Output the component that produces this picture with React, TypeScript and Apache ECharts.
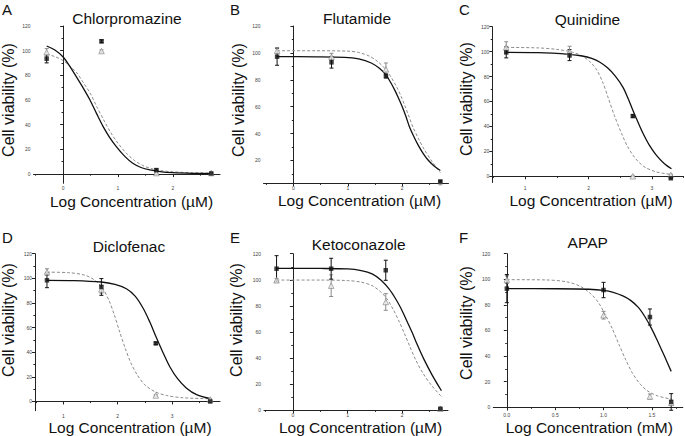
import React, { useEffect, useRef } from "react";
import * as echarts from "echarts";

// ---------- data (log concentration, % viability) ----------
const xA = [-0.3, 0.7, 1.7, 2.7];
const blackA = [93.5, 107.6, 3.2, 0.5];
const blackErrA = [3.4, 1.2, 1.0, 0.5];
const greyA = [98.7, 99.7, 0.8, 0.8];
const greyErrA = [3.0, 1.0, 0.5, 0.5];
const curveBlackA = [[-0.3, 103.8], [-0.15, 100.5], [0.0, 94.9], [0.12, 87.5], [0.24, 78.9], [0.37, 69.5], [0.49, 60], [0.61, 49], [0.73, 38.4], [0.85, 29.5], [0.97, 22.2], [1.12, 14.5], [1.27, 8.7], [1.42, 5.3], [1.58, 3.3], [1.8, 1.7], [2.0, 1.1], [2.35, 0.6], [2.73, 0.3]];
const curveGreyA = [[-0.3, 97.3], [-0.15, 95.2], [0.0, 92], [0.12, 87.5], [0.25, 82], [0.37, 74], [0.5, 65], [0.62, 54], [0.75, 43], [0.87, 33.5], [1.0, 25], [1.15, 17], [1.3, 11], [1.45, 7], [1.6, 4.5], [1.8, 2.7], [2.0, 1.8], [2.35, 1.1], [2.73, 0.8]];

const xB = [-0.3, 0.7, 1.7, 2.7];
const blackB = [97.2, 93, 82.8, 4.4];
const blackErrB = [6.4, 4.3, 1.5, 0.5];
const greyB = [101.6, 97.2, 87.8, 2.4];
const greyErrB = [1.9, 2.5, 4.7, 0.5];
const curveBlackB = [[-0.3, 97.2], [0.4, 97.1], [0.94, 96.7], [1.2, 95.5], [1.43, 92.5], [1.58, 88.5], [1.7, 83.6], [1.78, 78.5], [1.86, 72.5], [1.93, 66.5], [2.0, 60], [2.07, 52.5], [2.13, 45.2], [2.21, 38], [2.29, 31.6], [2.38, 25.5], [2.47, 20.5], [2.58, 16], [2.7, 12.5]];
const curveGreyB = [[-0.3, 101.6], [0.4, 101.6], [1.0, 101.3], [1.2, 100.3], [1.4, 97.5], [1.55, 93.5], [1.7, 87.5], [1.8, 81.5], [1.9, 74.5], [1.98, 67.5], [2.05, 60.5], [2.13, 52], [2.2, 44.5], [2.3, 36], [2.4, 28.5], [2.55, 19], [2.7, 11]];

const xC = [0.7, 1.7, 2.7, 3.3];
const blackC = [99.4, 97.2, 48.3, -1.6];
const blackErrC = [4.4, 4.4, 1.0, 0.5];
const greyC = [103.4, 99.8, 0, 1.1];
const greyErrC = [4.5, 4.5, 0.5, 0.5];
const curveBlackC = [[0.7, 99.4], [1.2, 99.2], [1.7, 97.8], [1.9, 96.5], [2.05, 94.5], [2.18, 91.5], [2.3, 87], [2.42, 80.5], [2.54, 71.7], [2.62, 63], [2.7, 53], [2.78, 43.5], [2.86, 34.5], [2.96, 25], [3.07, 17], [3.19, 10.5], [3.31, 6.0]];
const curveGreyC = [[0.7, 103.4], [1.2, 103], [1.5, 101.8], [1.75, 99.5], [1.9, 96.5], [2.02, 92], [2.12, 86], [2.22, 76], [2.31, 63], [2.41, 48.5], [2.52, 34.5], [2.61, 24.5], [2.7, 17], [2.8, 11], [2.9, 7], [3.05, 3.8], [3.2, 2.2], [3.33, 1.4]];

const xD = [0.7, 1.7, 2.7, 3.7];
const blackD = [98.4, 93, 47.2, 0];
const blackErrD = [6, 6.8, 1.0, 0.5];
const greyD = [105.1, 91, 4.9, 1.6];
const greyErrD = [2.7, 3, 0.5, 0.5];
const curveBlackD = [[0.7, 98.4], [1.2, 98.2], [1.7, 97], [1.95, 95], [2.16, 91.5], [2.32, 85.5], [2.47, 75.5], [2.59, 64.5], [2.71, 52], [2.84, 39], [2.96, 28], [3.1, 18.5], [3.26, 11], [3.45, 5.5], [3.72, 2]];
const curveGreyD = [[0.7, 105], [1.1, 104.6], [1.4, 102.5], [1.58, 98.5], [1.72, 92], [1.84, 82], [1.94, 70], [2.04, 56], [2.14, 43], [2.24, 31.5], [2.36, 21.5], [2.5, 13.5], [2.68, 8], [2.9, 4.8], [3.2, 3], [3.72, 2.2]];

const xE = [-0.3, 0.7, 1.7, 2.7];
const blackE = [108.5, 108.5, 107.3, 1.2];
const blackErrE = [10, 8, 7.7, 0.5];
const greyE = [99.6, 95.5, 83, 1.2];
const greyErrE = [1.5, 8.3, 6.4, 0.5];
const curveBlackE = [[-0.3, 108.8], [0.5, 108.7], [1.0, 108.3], [1.25, 107], [1.45, 104.5], [1.62, 99.5], [1.76, 93], [1.88, 85.5], [1.98, 78], [2.08, 69], [2.18, 60], [2.28, 50], [2.4, 39], [2.55, 27], [2.72, 15]];
const curveGreyE = [[-0.3, 99.8], [0.5, 99.8], [1.0, 99.4], [1.25, 98.2], [1.45, 95.5], [1.6, 91], [1.72, 85.5], [1.84, 77], [1.94, 68.5], [2.04, 59], [2.14, 49], [2.25, 38.5], [2.38, 28.5], [2.54, 19], [2.72, 10.5]];

const xF = [0, 1.0, 1.48, 1.7];
const blackF = [92.7, 91.6, 70.5, 4.1];
const blackErrF = [11, 6, 6.3, 6.5];
const greyF = [99.7, 71.9, 8.3, 3.4];
const greyErrF = [3, 3, 2, 2];
const curveBlackF = [[0, 92.7], [0.5, 92.6], [0.85, 92.2], [1.0, 91.3], [1.1, 89.8], [1.2, 87], [1.28, 83.5], [1.36, 78], [1.43, 70.5], [1.5, 61], [1.56, 51.5], [1.63, 40], [1.7, 28]];
const curveGreyF = [[0, 99.7], [0.4, 99.5], [0.62, 98], [0.76, 94.5], [0.87, 88.5], [0.95, 81.5], [1.02, 72], [1.09, 61.5], [1.16, 49], [1.23, 37], [1.3, 26.5], [1.38, 18], [1.46, 12.5], [1.56, 8.8], [1.7, 6.3]];

const titles = ["Chlorpromazine", "Flutamide", "Quinidine", "Diclofenac", "Ketoconazole", "APAP"];
const letters = ["A", "B", "C", "D", "E", "F"];
const xNames = ["Log Concentration (\u00b5M)", "Log Concentration (\u00b5M)", "Log Concentration (\u00b5M)", "Log Concentration (\u00b5M)", "Log Concentration (\u00b5M)", "Log Concentration (mM)"];
const yName = "Cell viability (%)";

const xMajorAB = [0, 1, 2];
const xMinorAB = [-0.5, 0.5, 1.5, 2.5];
const xMajorCD = [1, 2, 3];
const xMinorCD = [0.5, 1.5, 2.5, 3.5];
const xMajorF = [0, 0.5, 1.0, 1.5];
const xMinorF = [0.25, 0.75, 1.25, 1.75];
const yMajorFull = [0, 20, 40, 60, 80, 100, 120];
const yMajorB = [20, 40, 60, 80, 100, 120];
const yMinor = [10, 30, 50, 70, 90, 110];

// ---------- layout ----------
const FONT = '"Liberation Sans", Arial, Helvetica, sans-serif';

const panels = [
  { x: xA, b: blackA, be: blackErrA, g: greyA, ge: greyErrA, cb: curveBlackA, cg: curveGreyA,
    grid: { left: 33.5, top: 26, width: 186.5, height: 157.3 }, xr: [-0.54, 2.86], yr: [-7.5, 120],
    xMaj: xMajorAB, xMin: xMinorAB, yMaj: yMajorFull, dec: 0,
    letter: [2, 2], title: [127, 18.5], xl: [131.5, 201], yl: [8.5, 100] },
  { x: xB, b: blackB, be: blackErrB, g: greyB, ge: greyErrB, cb: curveBlackB, cg: curveGreyB,
    grid: { left: 263.5, top: 26, width: 185, height: 157.3 }, xr: [-0.55, 2.85], yr: [3, 120],
    xMaj: xMajorAB, xMin: xMinorAB, yMaj: yMajorB, dec: 0,
    letter: [230, 2], title: [357, 18.5], xl: [359.5, 200.5], yl: [238, 100] },
  { x: xC, b: blackC, be: blackErrC, g: greyC, ge: greyErrC, cb: curveBlackC, cg: curveGreyC,
    grid: { left: 492.3, top: 26.7, width: 191.2, height: 155.8 }, xr: [0.48, 3.5], yr: [-5, 120],
    xMaj: xMajorCD, xMin: xMinorCD, yMaj: yMajorFull, dec: 0,
    letter: [459, 2], title: [587.5, 19], xl: [591, 200], yl: [466, 99] },
  { x: xD, b: blackD, be: blackErrD, g: greyD, ge: greyErrD, cb: curveBlackD, cg: curveGreyD,
    grid: { left: 35, top: 253.7, width: 185, height: 157 }, xr: [0.48, 3.88], yr: [-7.5, 120],
    xMaj: xMajorCD, xMin: xMinorCD, yMaj: yMajorFull, dec: 0,
    letter: [2, 230], title: [129, 246.3], xl: [130, 427], yl: [8.5, 320] },
  { x: xE, b: blackE, be: blackErrE, g: greyE, ge: greyErrE, cb: curveBlackE, cg: curveGreyE,
    grid: { left: 264, top: 253.7, width: 184, height: 156.6 }, xr: [-0.53, 2.84], yr: [0, 120],
    xMaj: xMajorAB, xMin: xMinorAB, yMaj: yMajorFull, dec: 0,
    letter: [230, 230], title: [358.7, 244.7], xl: [360.5, 427], yl: [236.5, 320] },
  { x: xF, b: blackF, be: blackErrF, g: greyF, ge: greyErrF, cb: curveBlackF, cg: curveGreyF,
    grid: { left: 493.3, top: 253.7, width: 189.5, height: 156.3 }, xr: [-0.14, 1.82], yr: [-2.2, 120],
    xMaj: xMajorF, xMin: xMinorF, yMaj: yMajorFull, dec: 1,
    letter: [459, 230], title: [587.7, 242], xl: [589.3, 427], yl: [466, 323] },
];

const BLACK = "#111111";
const GREY = "#8c8c8c";

function errorBarSeries(xi: number, xs: number[], ys: number[], es: number[], color: string) {
  return {
    type: "custom",
    xAxisIndex: xi,
    yAxisIndex: xi,
    data: xs.map((v, i) => [v, ys[i], es[i]]),
    encode: { x: 0, y: 1 },
    clip: false,
    z: 3,
    renderItem: (params: any, api: any) => {
      const x = api.value(0);
      const y = api.value(1);
      const e = api.value(2);
      const top = api.coord([x, y + e]);
      const bot = api.coord([x, y - e]);
      const cw = 2;
      const st = { stroke: color, lineWidth: 1 };
      return {
        type: "group",
        children: [
          { type: "line", shape: { x1: top[0], y1: top[1], x2: bot[0], y2: bot[1] }, style: st },
          { type: "line", shape: { x1: top[0] - cw, y1: top[1], x2: top[0] + cw, y2: top[1] }, style: st },
          { type: "line", shape: { x1: bot[0] - cw, y1: bot[1], x2: bot[0] + cw, y2: bot[1] }, style: st },
        ],
      };
    },
  };
}

function buildOption() {
  const grids: any[] = [];
  const xAxes: any[] = [];
  const yAxes: any[] = [];
  const series: any[] = [];
  const graphics: any[] = [];

  panels.forEach((p, i) => {
    grids.push({ ...p.grid, containLabel: false });
    const ai = i * 2;
    const axisLine = { show: true, lineStyle: { color: "#222", width: 1 } };
    const lbl = { color: "#444", fontSize: 5, fontFamily: FONT };
    xAxes.push({
      type: "value", gridIndex: i, position: "bottom", min: p.xr[0], max: p.xr[1],
      axisLine, splitLine: { show: false },
      axisTick: { show: true, length: 3, customValues: p.xMaj, lineStyle: { color: "#222" } },
      axisLabel: { ...lbl, margin: 2.5, customValues: p.xMaj, formatter: (v: number) => v.toFixed(p.dec) },
    });
    xAxes.push({
      type: "value", gridIndex: i, position: "bottom", min: p.xr[0], max: p.xr[1],
      axisLine: { show: false }, splitLine: { show: false }, axisLabel: { show: false },
      axisTick: { show: true, length: 1.6, customValues: p.xMin, lineStyle: { color: "#222" } },
    });
    yAxes.push({
      type: "value", gridIndex: i, position: "left", min: p.yr[0], max: p.yr[1],
      axisLine, splitLine: { show: false },
      axisTick: { show: true, length: 3, customValues: p.yMaj, lineStyle: { color: "#222" } },
      axisLabel: { ...lbl, margin: 3, customValues: p.yMaj },
    });
    yAxes.push({
      type: "value", gridIndex: i, position: "left", min: p.yr[0], max: p.yr[1],
      axisLine: { show: false }, splitLine: { show: false }, axisLabel: { show: false },
      axisTick: { show: true, length: 1.6, customValues: yMinor, lineStyle: { color: "#222" } },
    });

    series.push({
      type: "line", xAxisIndex: ai, yAxisIndex: ai, data: p.cg, smooth: 0.3,
      showSymbol: false, symbol: "none", lineStyle: { color: GREY, width: 1, type: [3, 2] }, z: 2, silent: true,
    });
    series.push({
      type: "line", xAxisIndex: ai, yAxisIndex: ai, data: p.cb, smooth: 0.3,
      showSymbol: false, symbol: "none", lineStyle: { color: BLACK, width: 1.3 }, z: 2, silent: true,
    });
    series.push(errorBarSeries(ai, p.x, p.g, p.ge, GREY));
    series.push(errorBarSeries(ai, p.x, p.b, p.be, BLACK));
    series.push({
      type: "scatter", xAxisIndex: ai, yAxisIndex: ai, data: p.x.map((v, k) => [v, p.g[k]]),
      symbol: "triangle", symbolSize: 5.5,
      itemStyle: { color: "#f2f2f2", borderColor: GREY, borderWidth: 0.9 }, z: 4,
    });
    series.push({
      type: "scatter", xAxisIndex: ai, yAxisIndex: ai, data: p.x.map((v, k) => [v, p.b[k]]),
      symbol: "rect", symbolSize: 4.5, itemStyle: { color: BLACK }, z: 5,
    });

    graphics.push({
      type: "text", x: p.letter[0], y: p.letter[1],
      style: { text: letters[i], font: `15px ${FONT}`, fill: "#111", textAlign: "left", textVerticalAlign: "top" },
    });
    graphics.push({
      type: "text", x: p.title[0], y: p.title[1],
      style: { text: titles[i], font: `15.5px ${FONT}`, fill: "#111", textAlign: "center", textVerticalAlign: "middle" },
    });
    graphics.push({
      type: "text", x: p.xl[0], y: p.xl[1],
      style: { text: xNames[i], font: `15.5px ${FONT}`, fill: "#111", textAlign: "center", textVerticalAlign: "middle" },
    });
    graphics.push({
      type: "text", x: p.yl[0], y: p.yl[1], rotation: Math.PI / 2,
      style: { text: yName, font: `16px ${FONT}`, fill: "#111", textAlign: "center", textVerticalAlign: "middle" },
    });
  });

  return {
    animation: false,
    backgroundColor: "#ffffff",
    grid: grids,
    xAxis: xAxes,
    yAxis: yAxes,
    series,
    graphic: graphics,
  };
}

export default function App() {
  const ref = useRef<HTMLDivElement>(null);
  useEffect(() => {
    if (!ref.current) return;
    const chart = echarts.init(ref.current, undefined, { renderer: "svg" });
    chart.setOption(buildOption() as any);
    return () => chart.dispose();
  }, []);
  return (
    <div
      ref={ref}
      style={{ position: "fixed", left: 0, top: 0, width: 685, height: 436, background: "#fff" }}
    />
  );
}
